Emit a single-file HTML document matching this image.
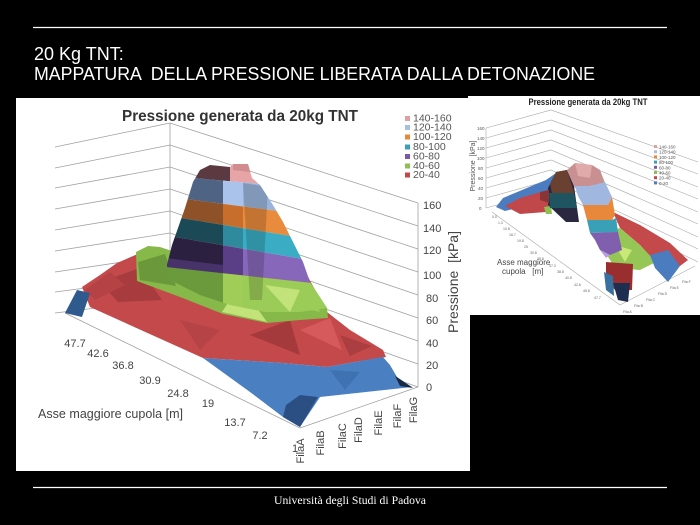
<!DOCTYPE html>
<html><head><meta charset="utf-8"><style>
html,body{margin:0;padding:0;background:#000;width:700px;height:525px;overflow:hidden}
svg{display:block}
</style></head><body>
<svg width="700" height="525" viewBox="0 0 700 525" xmlns="http://www.w3.org/2000/svg" font-family="'Liberation Sans', Arial, sans-serif">
<rect width="700" height="525" fill="#000"/>
<line x1="33" y1="27.5" x2="667" y2="27.5" stroke="#fff" stroke-width="1.2"/>
<text x="34" y="60" fill="#fff" font-size="18">20 Kg TNT:</text>
<text x="34" y="80" fill="#fff" font-size="18" xml:space="preserve" textLength="561" lengthAdjust="spacingAndGlyphs">MAPPATURA  DELLA PRESSIONE LIBERATA DALLA DETONAZIONE</text>

<!-- MAIN CHART -->
<rect x="16" y="98" width="454" height="373" fill="#fff"/>
<g stroke="#a0a0a0" stroke-width="0.8" fill="none">
<polyline points="55,147 170,123 418,203"/>
<polyline points="55,168 170,145 418,226"/>
<polyline points="55,188 170,167 418,249"/>
<polyline points="55,209 170,189 418,272"/>
<polyline points="55,230 170,211 418,295"/>
<polyline points="55,251 170,233 418,318"/>
<polyline points="55,272 170,255 418,341"/>
<polyline points="55,292 170,277 418,364"/>
<polyline points="55,313 170,299 418,387"/>
<line x1="418" y1="203" x2="418" y2="387"/>
<line x1="170" y1="123" x2="170" y2="299"/>
<line x1="65" y1="313" x2="300" y2="428"/>
<line x1="300" y1="428" x2="418" y2="387"/>
</g>

<!-- red base -->
<polygon points="82,287 100,275 117,263 140,253 160,250 200,255 300,262 327,312 350,330 383,350 386,357 355,362 327,367 283,363 203,358 90,307" fill="#c3494b"/>
<polygon points="100,282 140,268 162,300 118,302" fill="#a83b3d"/>
<polygon points="85,290 110,272 125,285 95,300" fill="#b54244"/>
<polygon points="250,335 290,320 300,355" fill="#a53a3c"/>
<polygon points="340,335 372,346 350,356" fill="#ab3e40"/>
<polygon points="300,330 330,318 342,350" fill="#d65a5c"/>
<polygon points="180,320 220,330 200,350" fill="#b64446"/>
<!-- blue left tip -->
<polygon points="65,313 77,290 90,293 82,317" fill="#2f5a8e"/>
<!-- blue bottom -->
<polygon points="203,358 283,363 327,367 383,357 390,365 397,377 412,387 320,397 300,427 283,417 250,392" fill="#4a80c2"/>
<polygon points="283,417 300,427 318,397 300,395 286,405" fill="#2b4f82"/>
<polygon points="330,370 360,372 345,390" fill="#3f72b0"/>
<polygon points="395,376 413,388 400,386" fill="#1a2840"/>
<!-- green -->
<polygon points="136,252 148,246 160,247 175,252 200,285 265,300 300,288 310,282 327,308 328,318 300,320 267,323 223,314 180,297 137,281" fill="#86b84a"/>
<polygon points="138,262 165,254 176,286 140,280" fill="#6a983a"/>
<polygon points="222,312 240,284 267,322" fill="#c2e27a"/>
<polygon points="270,300 310,288 320,312" fill="#9ccc5c"/>

<!-- peak -->
<clipPath id="pk"><polygon points="200,170 210,165 230,167 233,164 248,164 252,178 260,185 273,205 283,222 293,242 303,262 310,282 327,308 300,312 265,312 230,305 200,295 170,280 167,265 172,245 178,228 185,208 193,182"/></clipPath>
<g clip-path="url(#pk)">
<polygon points="160,150 230,150 230,181.2 160,175.1" fill="#5a3a40"/>
<polygon points="230,150 330,150 330,189.9 230,181.2" fill="#e6a4a6"/>
<polygon points="233,150 250,150 250,172 233,170" fill="#d08c8e"/>
<polygon points="160,175.1 223,180.6 223,203.9 160,195.7" fill="#4f6485"/>
<polygon points="223,180.6 243,182.4 243,206.5 223,203.9" fill="#a9c3ea"/>
<polygon points="243,182.4 330,189.9 330,217.8 243,206.5" fill="#9ab5dc"/>
<polygon points="160,195.7 223,203.9 223,224.9 160,214.6" fill="#8f5228"/>
<polygon points="223,203.9 243,206.5 243,228.2 223,224.9" fill="#c86e2c"/>
<polygon points="243,206.5 330,217.8 330,242.3 243,228.2" fill="#e98b3c"/>
<polygon points="160,214.6 223,224.9 223,245.2 160,234.3" fill="#1b4a56"/>
<polygon points="223,224.9 243,228.2 243,248.7 223,245.2" fill="#2e8a9c"/>
<polygon points="243,228.2 330,242.3 330,263.8 243,248.7" fill="#3aacc4"/>
<polygon points="160,234.3 223,245.2 223,273.3 160,266.4" fill="#2b2040"/>
<polygon points="165,258 223,265 223,273.3 165,268" fill="#47336a"/>
<polygon points="223,245.2 243,248.7 243,275.4 223,273.3" fill="#5a3f86"/>
<polygon points="243,248.7 330,263.8 330,284.9 243,275.4" fill="#8767ba"/>
<polygon points="160,266.4 223,273.3 223,330 160,330" fill="#6a9a3c"/>
<polygon points="223,273.3 243,275.4 243,330 223,330" fill="#a0cc58"/>
<polygon points="243,275.4 330,284.9 330,330 243,330" fill="#9ccc58"/>
<polygon points="265,285 300,290 290,312" fill="#c2e27a"/>
<polygon points="243,183 268,187 262,300 250,300" fill="#000" opacity="0.16"/>
</g>

<!-- main chart text -->
<text x="240" y="121" text-anchor="middle" font-size="16" font-weight="bold" fill="#333" textLength="236" lengthAdjust="spacingAndGlyphs">Pressione generata da 20kg TNT</text>
<g font-size="10.5" fill="#555">
<rect x="405" y="116" width="5" height="5" fill="#e0a0a2"/><text x="413" y="121.5">140-160</text>
<rect x="405" y="125" width="5" height="5" fill="#a8c0e0"/><text x="413" y="130.5">120-140</text>
<rect x="405" y="134.5" width="5" height="5" fill="#e8883a"/><text x="413" y="140">100-120</text>
<rect x="405" y="144.5" width="5" height="5" fill="#3aa0b8"/><text x="413" y="150">80-100</text>
<rect x="405" y="154" width="5" height="5" fill="#7a5aa8"/><text x="413" y="159.5">60-80</text>
<rect x="405" y="163.5" width="5" height="5" fill="#8cc050"/><text x="413" y="169">40-60</text>
<rect x="405" y="172.5" width="5" height="5" fill="#c04848"/><text x="413" y="178">20-40</text>
</g>
<g font-size="11" fill="#444">
<text x="423" y="209">160</text><text x="423" y="232">140</text><text x="423" y="254">120</text>
<text x="423" y="279">100</text><text x="426" y="302">80</text><text x="426" y="324">60</text>
<text x="426" y="347">40</text><text x="426" y="369">20</text><text x="426" y="391">0</text>
<text x="75" y="347" text-anchor="middle">47.7</text>
<text x="98" y="357" text-anchor="middle">42.6</text>
<text x="123" y="369" text-anchor="middle">36.8</text>
<text x="150" y="384" text-anchor="middle">30.9</text>
<text x="178" y="397" text-anchor="middle">24.8</text>
<text x="208" y="407" text-anchor="middle">19</text>
<text x="235" y="426" text-anchor="middle">13.7</text>
<text x="260" y="439" text-anchor="middle">7.2</text>
<text x="295" y="452" text-anchor="middle">1</text>
<text transform="translate(304,451) rotate(-90)" text-anchor="middle">FilaA</text>
<text transform="translate(324,443) rotate(-90)" text-anchor="middle">FilaB</text>
<text transform="translate(346,436) rotate(-90)" text-anchor="middle">FilaC</text>
<text transform="translate(362,430) rotate(-90)" text-anchor="middle">FilaD</text>
<text transform="translate(382,423) rotate(-90)" text-anchor="middle">FilaE</text>
<text transform="translate(401,416) rotate(-90)" text-anchor="middle">FilaF</text>
<text transform="translate(417,410) rotate(-90)" text-anchor="middle">FilaG</text>
</g>
<text x="38" y="418" font-size="13" fill="#444" textLength="145" lengthAdjust="spacingAndGlyphs">Asse maggiore cupola [m]</text>
<text transform="translate(458,282) rotate(-90)" text-anchor="middle" font-size="14" fill="#444" xml:space="preserve">Pressione  [kPa]</text>

<!-- SMALL CHART -->
<rect x="468" y="96" width="232" height="219" fill="#fff"/>
<text x="588" y="105" text-anchor="middle" font-size="9" font-weight="bold" fill="#222" textLength="119" lengthAdjust="spacingAndGlyphs">Pressione generata da 20kg TNT</text>
<g stroke="#a8a8a8" stroke-width="0.6" fill="none">
<polyline points="486,128 551,110 698,162"/>
<polyline points="486,138 551,120 698,174"/>
<polyline points="486,148 551,130 698,187"/>
<polyline points="486,158 551,140 698,199"/>
<polyline points="486,168 551,150 698,212"/>
<polyline points="486,178 551,160 698,224"/>
<polyline points="486,188 551,170 698,237"/>
<polyline points="486,198 551,180 698,249"/>
<polyline points="486,208 551,190 698,262"/>
<line x1="486" y1="128" x2="486" y2="208"/>
<line x1="492" y1="212" x2="620" y2="305"/>
<line x1="620" y1="305" x2="695" y2="266"/>
</g>
<g font-size="4.5" fill="#555">
<text x="477" y="130">160</text><text x="477" y="140">140</text><text x="477" y="150">120</text>
<text x="477" y="160">100</text><text x="478" y="170">80</text><text x="478" y="180">60</text>
<text x="478" y="190">40</text><text x="478" y="200">20</text><text x="479" y="210">0</text>
</g>
<text transform="translate(475,166) rotate(-90)" text-anchor="middle" font-size="7" fill="#555" xml:space="preserve">Pressione  [kPa]</text>
<!-- small surfaces -->
<polygon points="496,207 503,198 546,180 556,173 560,182 548,193 530,205 505,211" fill="#4a7cbf"/>
<polygon points="505,206 520,198 548,190 556,200 546,212 520,214" fill="#c0484a"/>
<polygon points="544,207 551,206 552,214 546,214" fill="#8cc050"/>
<polygon points="548,188 556,172 567,170 574,186 579,222 566,222 548,205" fill="#2a2840"/>
<polygon points="550,184 556,172 567,170 572,186 574,193 552,193" fill="#6a4030"/>
<polygon points="549,193 574,193 577,208 550,208" fill="#1f5560"/>
<polygon points="540,192 549,190 549,203 540,200" fill="#8a3535"/>
<polygon points="567,170 575,163 592,165 600,170 605,183 590,186 575,188" fill="#c89090"/>
<polygon points="575,163 592,165 590,178 578,176" fill="#e0aaaa"/>
<polygon points="613,212 640,225 670,243 688,260 680,266 655,262 640,245 620,228" fill="#c3494b"/>
<polygon points="607,232 620,228 640,245 656,262 640,270 615,268 607,255" fill="#96c656"/>
<polygon points="615,245 632,250 625,262" fill="#c8e878"/>
<polygon points="650,255 668,250 680,266 668,282 655,268" fill="#4a7cbf"/>
<polygon points="575,186 590,186 605,182 612,197 608,205 583,205 578,196" fill="#a0b8e0"/>
<polygon points="583,205 608,205 612,197 615,215 612,220 587,220" fill="#e8883a"/>
<polygon points="587,220 612,220 616,218 618,232 590,233" fill="#3aa0b8"/>
<polygon points="590,233 618,232 622,250 610,255 600,250 595,240" fill="#7f5fae"/>
<polygon points="600,250 610,255 606,258" fill="#b8a0e0"/>
<polygon points="606,262 633,264 632,290 615,290 606,280" fill="#9a2e2e"/>
<polygon points="604,272 613,276 614,296 606,290" fill="#3a70a0"/>
<polygon points="613,283 630,283 628,302 618,300" fill="#1e2e50"/>
<g font-size="4.5" fill="#555">
<rect x="654" y="145" width="3" height="3" fill="#e0a0a2"/><text x="659" y="148.5">140-160</text>
<rect x="654" y="150.2" width="3" height="3" fill="#a8c0e0"/><text x="659" y="153.7">120-140</text>
<rect x="654" y="155.4" width="3" height="3" fill="#e8883a"/><text x="659" y="158.9">100-120</text>
<rect x="654" y="160.6" width="3" height="3" fill="#3aa0b8"/><text x="659" y="164.1">80-100</text>
<rect x="654" y="165.8" width="3" height="3" fill="#7a5aa8"/><text x="659" y="169.3">60-80</text>
<rect x="654" y="171" width="3" height="3" fill="#8cc050"/><text x="659" y="174.5">40-60</text>
<rect x="654" y="176.2" width="3" height="3" fill="#c04848"/><text x="659" y="179.7">20-40</text>
<rect x="654" y="181.4" width="3" height="3" fill="#4a7cbf"/><text x="659" y="184.9">0-20</text>
</g>
<g font-size="3.5" fill="#666">
<text x="492" y="218">0.0</text><text x="498" y="224">1.3</text><text x="503" y="230">10.8</text>
<text x="509" y="236">16.7</text><text x="517" y="242">19.8</text><text x="524" y="248">25</text>
<text x="530" y="254">30.8</text><text x="537" y="260">35.8</text><text x="549" y="267">37.3</text>
<text x="557" y="273">38.8</text><text x="565" y="279">40.8</text><text x="574" y="286">42.6</text>
<text x="583" y="292">45.8</text><text x="594" y="299">47.7</text>
<text x="623" y="313">Fila A</text><text x="634" y="307">Fila B</text><text x="646" y="301">Fila C</text>
<text x="658" y="295">Fila D</text><text x="670" y="289">Fila E</text><text x="682" y="283">Fila F</text>
</g>
<text x="497" y="265" font-size="8" fill="#444">Asse maggiore</text>
<text x="502" y="274" font-size="8" fill="#444" xml:space="preserve">cupola   [m]</text>

<!-- footer -->
<line x1="33" y1="487.5" x2="667" y2="487.5" stroke="#fff" stroke-width="1.2"/>
<text x="274" y="504" font-family="'Liberation Serif', 'Times New Roman', serif" font-size="12" fill="#fff" textLength="152" lengthAdjust="spacingAndGlyphs">Università degli Studi di Padova</text>
</svg>
</body></html>
